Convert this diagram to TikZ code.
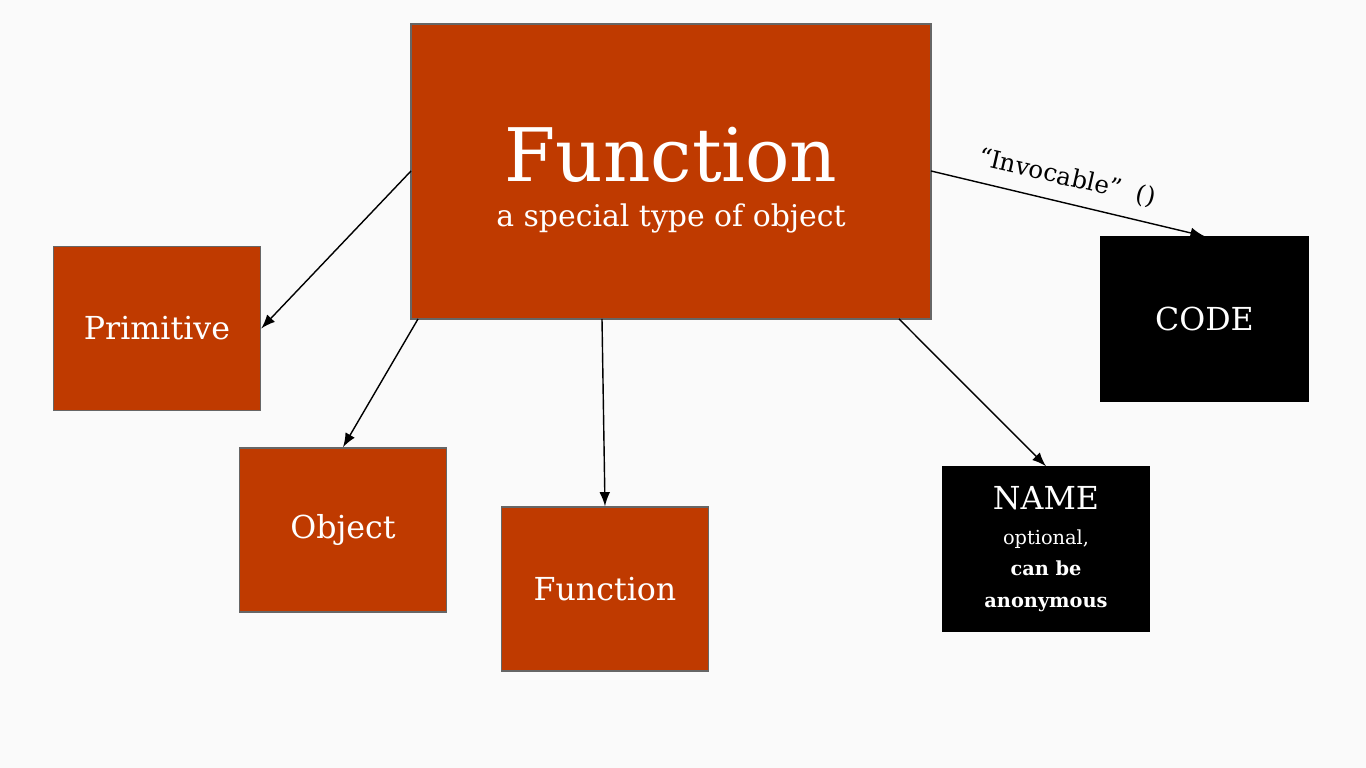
\documentclass[tikz,border=0pt]{standalone}
\usepackage{fontspec}
\setmainfont{DejaVu Serif}
\definecolor{rust}{HTML}{BF3A00}
\definecolor{bg}{HTML}{FAFAFA}
\begin{document}
\begin{tikzpicture}
[x=0.01cm,y=-0.01cm,
box/.style={rectangle,draw=black!60,fill=rust,text=white,thin,inner sep=0pt,minimum width=2.07cm,minimum height=1.64cm,align=center,font=\fontsize{9}{11}\selectfont},
blackbox/.style={box,fill=black,draw=black},
link/.style={-latex,thin,black}]
\fill[bg] (0,0) rectangle (1366,768);

\node[box,minimum width=5.2cm,minimum height=2.95cm] (main) at (671,171.5) {};
\node[text=white,font=\fontsize{21}{24}\selectfont] (title) at (671,155) {Function};
\node[text=white,font=\fontsize{8.5}{10}\selectfont] (sub) at (671,218) {a special type of object};

\node[box] (prim) at (157,328.5) {Primitive};
\node[box] (obj) at (343,530) {Object};
\node[box] (func) at (605,589) {Function};
\node[blackbox] (name) at (1046,549) {NAME\\[-1pt]{\fontsize{5.5}{7}\selectfont optional,}\\[-2pt]{\fontsize{5.5}{7}\selectfont\bfseries can be}\\[-2pt]{\fontsize{5.5}{7}\selectfont\bfseries anonymous}};
\node[blackbox] (code) at (1204.5,319) {CODE};

% connectors
\coordinate (m1) at (411,171);
\coordinate (m2) at (418,319);
\coordinate (m3) at (602,319);
\coordinate (m4) at (899,319);
\coordinate (m5) at (931,171);
\draw[link] (m1) -- (prim.east);
\draw[link] (m2) -- (obj.north);
\draw[link] (m3) -- (func.north);
\draw[link] (m4) -- (name.north);
\draw[link] (m5) -- (code.north);
\node[rotate=-13,font=\fontsize{7}{8}\selectfont] (inv) at (1067,178) {``Invocable''\ \ ()};
\end{tikzpicture}
\end{document}
